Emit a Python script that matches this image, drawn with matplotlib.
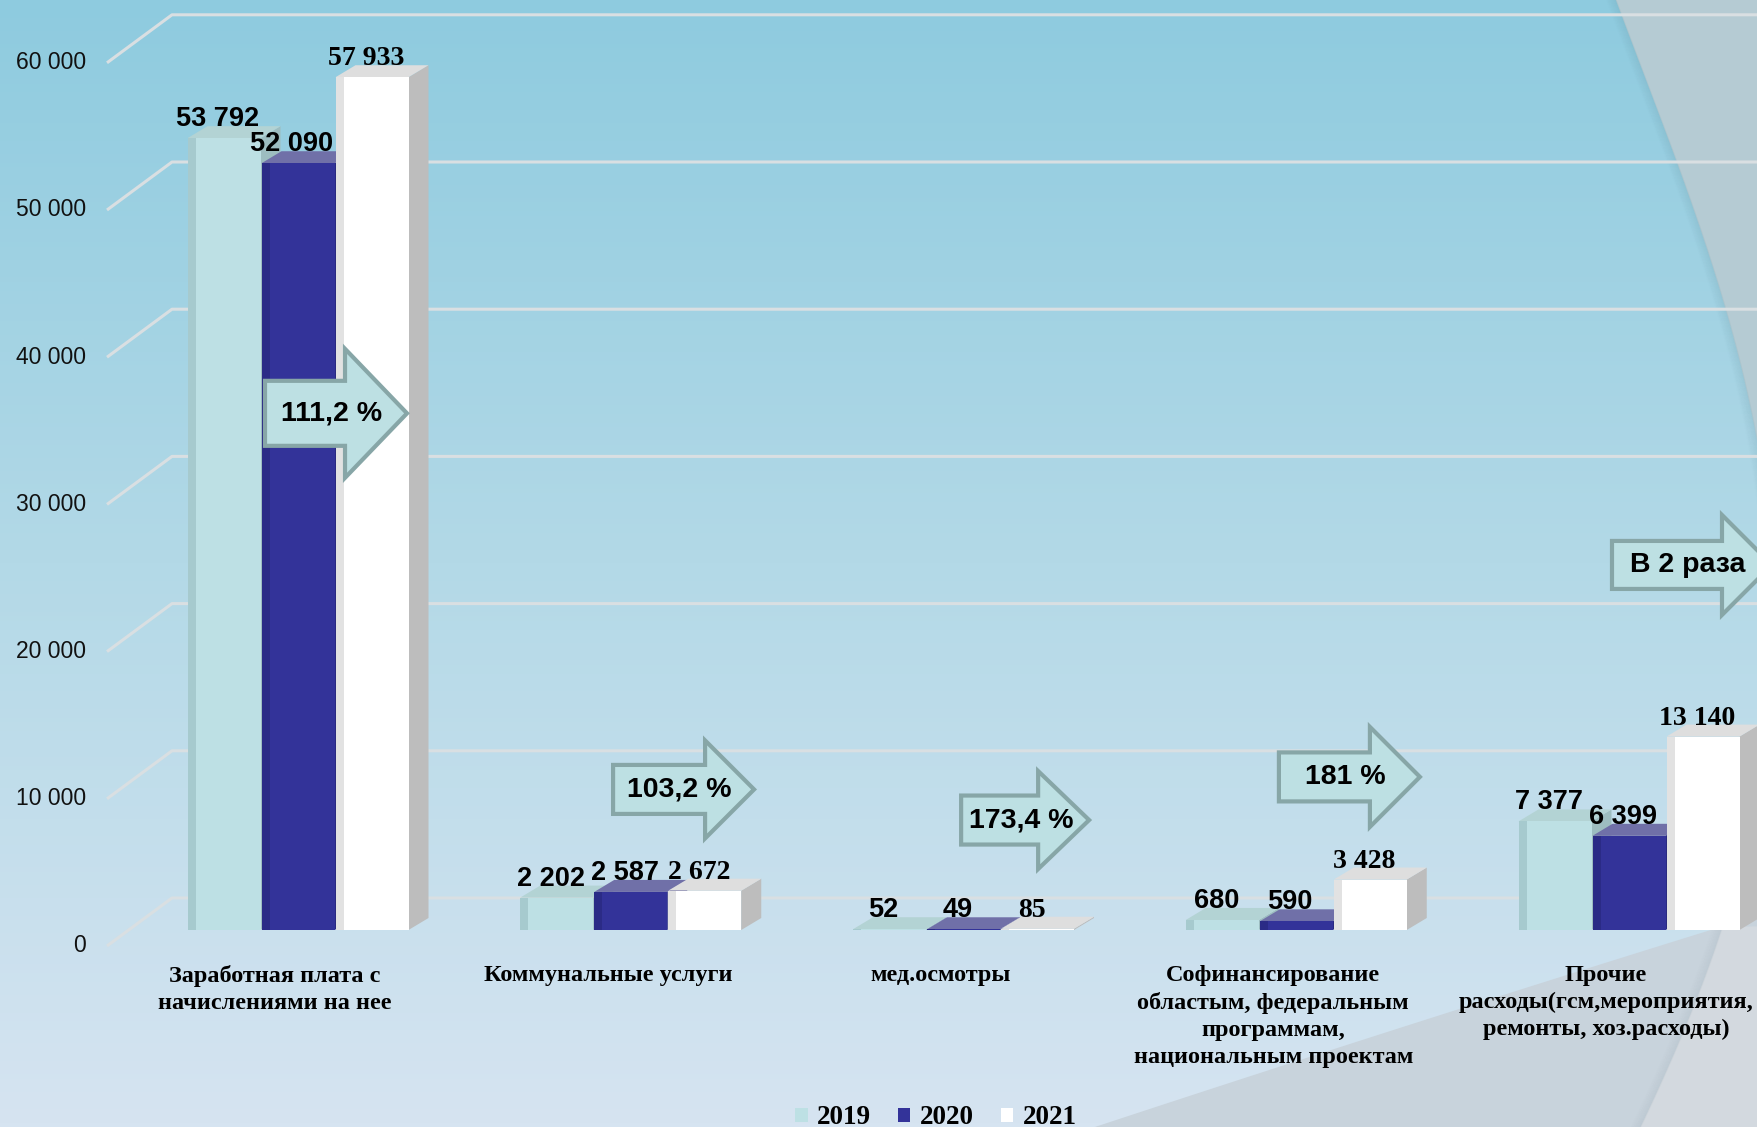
import numpy as np
import matplotlib.pyplot as plt
from matplotlib.patches import Polygon, FancyArrow
from matplotlib.colors import LinearSegmentedColormap

# expenses by item, thousand rubles
categories = [
    "Заработная плата с\nначислениями на нее",
    "Коммунальные услуги",
    "мед.осмотры",
    "Софинансирование\nобластым, федеральным\nпрограммам,\nнациональным проектам",
    "Прочие\nрасходы(гсм,мероприятия,\nремонты, хоз.расходы)",
]
years = ["2019", "2020", "2021"]
values_2019 = [53792, 2202, 52, 680, 7377]
values_2020 = [52090, 2587, 49, 590, 6399]
values_2021 = [57933, 2672, 85, 3428, 13140]
growth_labels = ["111,2 %", "103,2 %", "173,4 %", "181 %", "В 2 раза"]
y_ticks = [0, 10000, 20000, 30000, 40000, 50000, 60000]

W, H = 1758, 1127
X_PX = 332.75      # pixels per category
Y_PX = 0.01472     # pixels per value unit
BASE_PX = 930      # pixel row of value 0 at the bar fronts
X0_PX = 275        # pixel column of the first category

def px_x(p):
    return p / X_PX

def px_y(p):
    return p / Y_PX

fig = plt.figure(figsize=(W / 100, H / 100), dpi=100)

# ---- slide background -------------------------------------------------
bg = fig.add_axes([0, 0, 1, 1])
bg.set_xlim(0, W)
bg.set_ylim(H, 0)
bg.axis("off")
grad = LinearSegmentedColormap.from_list("bg", ["#8ecbdf", "#b3d9e7", "#d6e4f1"])
bg.imshow(np.linspace(0, 1, 256).reshape(-1, 1), cmap=grad, aspect="auto",
          extent=[0, W, H, 0], zorder=0)

# big arc on the right edge
arc_y = np.array([0, 133, 267, 400, 620, 930, 1127])
arc_x = np.array([1617, 1663, 1713, 1753, 1770, 1723, 1640])
arc_fit = np.polyfit(arc_y, arc_x, 4)
yy = np.linspace(0, H, 300)
xx = np.polyval(arc_fit, yy)

# lower swoosh
sw_x = np.array([1000, 1081, 1300, 1500, 1633, 1713, 1758])
sw_y = np.array([1160, 1127, 1067, 993, 950, 930, 918])
sw_fit = np.polyfit(sw_x, sw_y, 2)
sx = np.linspace(950, W, 200)
sy = np.polyval(sw_fit, sx)

upper = np.column_stack([xx, yy])
bg.add_patch(Polygon(np.vstack([upper, [[W + 50, H], [W + 50, 0]]]),
                     closed=True, color="#b5cbd3", zorder=1, lw=0))
bg.add_patch(Polygon(np.vstack([np.column_stack([sx, sy]), [[W, H + 20], [950, H + 20]]]),
                     closed=True, color="#c8d3dc", zorder=2, lw=0))
low = yy > 925
bg.add_patch(Polygon(np.vstack([np.column_stack([xx[low], yy[low]]), [[W + 50, H], [W + 50, 925]]]),
                     closed=True, color="#d3d9df", zorder=3, lw=0))
for k in range(10):
    bg.plot(xx[~low] - k, yy[~low], color="#5f8c99", alpha=0.10 * (1 - k / 10), lw=1.2, zorder=4)
    bg.plot(xx[low] - k, yy[low], color="#8a9ba6", alpha=0.08 * (1 - k / 10), lw=1.2, zorder=4)

# ---- chart ------------------------------------------------------------
ax = fig.add_axes([0, 0, 1, 1])
ax.patch.set_alpha(0)
ax.axis("off")
ax.set_xlim(-X0_PX / X_PX, (W - X0_PX) / X_PX)
ax.set_ylim(px_y(BASE_PX - H), px_y(BASE_PX))

# back wall gridlines with the left diagonal edge
front_x = px_x(107 - X0_PX)
back_x = px_x(172 - X0_PX)
for v in y_ticks:
    ax.plot([front_x, back_x, ax.get_xlim()[1]],
            [v - px_y(16), v + px_y(32), v + px_y(32)],
            color="#d9dfe2", lw=2.2, zorder=1, solid_capstyle="butt")
    ax.text(px_x(86 - X0_PX), v - px_y(16), f"{v:,}".replace(",", " "),
            ha="right", va="center", fontsize=16.5, family="Liberation Sans", color="#111111")

series = [values_2019, values_2020, values_2021]
fronts = ["#bde0e4", "#333399", "#ffffff"]
shades = ["#97bcc0", "#26267a", "#d0d0d0"]
tops = ["#b3d3d4", "#7070a8", "#dedede"]
sides = ["#9dbdc0", "#2a2a80", "#bdbdbd"]
label_fonts = ["Liberation Sans", "Liberation Sans", "Liberation Serif"]
label_sizes = [19.5, 19.5, 20]

x = np.arange(len(categories))
bw = px_x(73)
step = px_x(74)
shift = px_x(23)
dx, dy = px_x(20), px_y(12)

handles = []
for j, vals in enumerate(series):
    cx = x + shift + (j - 1) * step
    z = 3 + j
    for c, v in zip(cx, vals):
        x0, x1 = c - bw / 2, c + bw / 2
        ax.add_patch(Polygon([[x1, 0], [x1, v], [x1 + dx, v + dy], [x1 + dx, dy]],
                             closed=True, color=sides[j], lw=0, zorder=z))
        ax.add_patch(Polygon([[x0, v], [x1, v], [x1 + dx, v + dy], [x0 + dx, v + dy]],
                             closed=True, color=tops[j], lw=0, zorder=z))
    b = ax.bar(cx, vals, bw, color=fronts[j], zorder=z + 0.1, label=years[j])
    ax.bar(cx - bw / 2 + px_x(4), vals, px_x(8), color=shades[j], alpha=0.6, lw=0, zorder=z + 0.2)
    handles.append(b)
    for c, v in zip(cx, vals):
        ax.annotate(f"{v:,}".replace(",", " "), (c, v), xytext=(-6, 12),
                    textcoords="offset pixels", ha="center", va="baseline",
                    fontsize=label_sizes[j], fontweight="bold",
                    family=label_fonts[j], color="black", zorder=10)

# category captions
for i, name in enumerate(categories):
    ax.text(i, px_y(BASE_PX - 965), name, ha="center", va="top", fontsize=17.5,
            fontweight="bold", family="Liberation Serif", linespacing=1.36, zorder=10)

# growth arrows 2021 vs 2020
arrow_left = [-0.030, 1.016, 2.062, 3.017, 4.018]
arrow_y = [35100, 9550, 7470, 10400, 24800]
arrow_len = [142, 141, 128, 141, 160]
arrow_head = [129, 98, 98, 100, 100]
arrow_body = [65, 49, 49, 49, 48]
arrow_tip = [62, 49, 51, 50, 50]
for lab, xl, yc, ln, hh, bh, tl in zip(growth_labels, arrow_left, arrow_y,
                                       arrow_len, arrow_head, arrow_body, arrow_tip):
    ax.add_patch(FancyArrow(xl, yc, px_x(ln), 0, width=px_y(bh), head_width=px_y(hh),
                            head_length=px_x(tl), length_includes_head=True,
                            facecolor="#bde0e3", edgecolor="#87a6a7", lw=3, zorder=8))
    ax.text(xl + px_x(ln) * 0.47, yc, lab, ha="center", va="center", fontsize=20.5,
            fontweight="bold", family="Liberation Sans", zorder=9)

leg = ax.legend(handles=handles, labels=years, loc="center", ncol=3, frameon=False,
                bbox_to_anchor=(936 / W, 1 - 1118 / H), handlelength=0.45, handleheight=0.45,
                handletextpad=0.35, columnspacing=1.0,
                prop={"family": "Liberation Serif", "weight": "bold", "size": 19.5})

fig.savefig("out.png", dpi=100)
